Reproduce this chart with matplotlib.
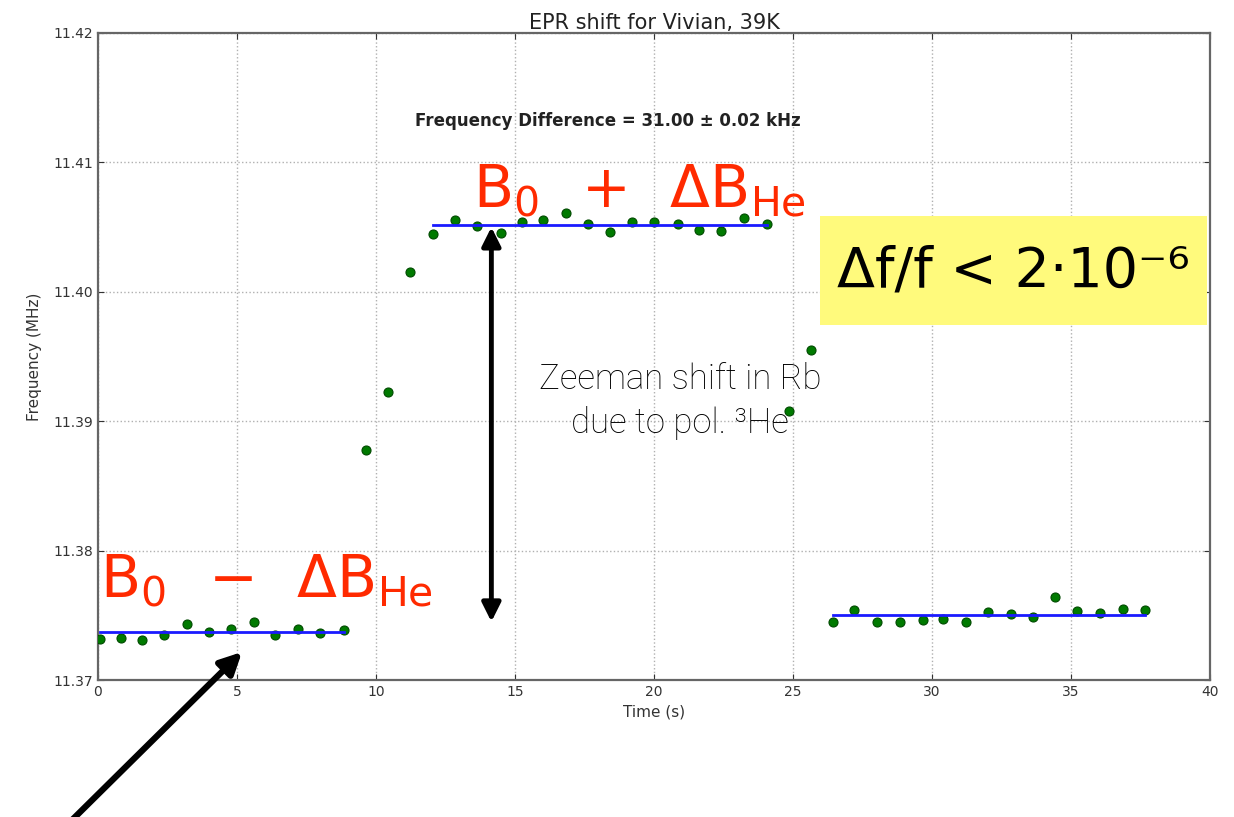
import numpy as np
import matplotlib
matplotlib.use("Agg")
import matplotlib.pyplot as plt
from matplotlib.patches import Rectangle

W, H = 1234, 817

# EPR frequency readings (MHz) vs time (s), split by 3He spin state
t_before = [0.07, 0.83, 1.58, 2.37, 3.19, 3.99, 4.79, 5.60, 6.37, 7.18, 8.00, 8.86]
f_before = [11.37315, 11.37327, 11.37309, 11.37348, 11.37430, 11.37373,
            11.37392, 11.37446, 11.37348, 11.37394, 11.37361, 11.37386]

t_rise = [9.63, 10.44, 11.22]
f_rise = [11.38777, 11.39228, 11.40155]

t_flip = [12.04, 12.84, 13.62, 14.49, 15.24, 16.02, 16.82, 17.62,
          18.42, 19.22, 20.00, 20.87, 21.63, 22.41, 23.25, 24.05]
f_flip = [11.40447, 11.40555, 11.40508, 11.40452, 11.40537, 11.40555,
          11.40611, 11.40524, 11.40460, 11.40537, 11.40542, 11.40524,
          11.40478, 11.40470, 11.40568, 11.40522]

t_fall = [24.87, 25.65]
f_fall = [11.39079, 11.39550]

t_after = [26.43, 27.21, 28.03, 28.85, 29.67, 30.41, 31.21, 32.03,
           32.83, 33.62, 34.42, 35.20, 36.04, 36.86, 37.66]
f_after = [11.37451, 11.37541, 11.37451, 11.37451, 11.37464, 11.37469,
           11.37451, 11.37528, 11.37508, 11.37489, 11.37639, 11.37533,
           11.37515, 11.37549, 11.37541]

x_ticks = [0, 5, 10, 15, 20, 25, 30, 35, 40]
y_ticks = [11.37, 11.38, 11.39, 11.40, 11.41, 11.42]


def fig_xy(x, y):
    # pixel position (from top-left) -> figure fraction
    return x / W, 1 - y / H


fig = plt.figure(figsize=(W / 100, H / 100), dpi=100)
ax = fig.add_axes([98 / W, 1 - 680 / H, (1210 - 98) / W, (680 - 33) / H])

dot = dict(ls="none", marker="o", ms=6.5, mfc="#007a00", mec="#004a00", mew=0.8, zorder=3)
for t, f in [(t_before, f_before), (t_rise, f_rise), (t_flip, f_flip),
             (t_fall, f_fall), (t_after, f_after)]:
    ax.plot(t, f, **dot)

# plateau averages
for t, f in [(t_before, f_before), (t_flip, f_flip), (t_after, f_after)]:
    m = np.mean(f)
    ax.plot([t[0], t[-1]], [m, m], color="#1a1aff", lw=2, zorder=4)

ax.set_xlim(0, 40)
ax.set_ylim(11.37, 11.42)
ax.set_xticks(x_ticks)
ax.set_yticks(y_ticks)
ax.set_yticklabels([f"{v:.2f}" for v in y_ticks])
ax.tick_params(direction="in", top=True, right=True, labelsize=10,
               colors="#333333", length=4)
ax.grid(True, ls=":", color="#b0b0b0", lw=1)
for s in ax.spines.values():
    s.set_color("#666666")
    s.set_linewidth(1.6)

ax.set_title("EPR shift for Vivian, 39K", fontsize=15, pad=3, color="#222222")
ax.set_xlabel("Time (s)", fontsize=11, color="#333333", labelpad=4)
ax.set_ylabel("Frequency (MHz)", fontsize=11, color="#333333", labelpad=8)

ax.text(18.35, 11.4132, "Frequency Difference = 31.00 \u00b1 0.02 kHz",
        fontsize=12, fontweight="bold", ha="center", va="center", color="#222222")

# annotations
red = "#ff2a00"
fig.text(*fig_xy(473, 207), r"$\mathregular{B_0\ \,+\ \,\Delta B_{He}}$",
         fontsize=42, color=red, ha="left", va="baseline")
fig.text(*fig_xy(100, 597), r"$\mathregular{B_0\ \,-\ \,\Delta B_{He}}$",
         fontsize=42, color=red, ha="left", va="baseline")

fig.patches.append(Rectangle(fig_xy(820, 325), 387 / W, 109 / H,
                             transform=fig.transFigure, fc="#fffa7c", ec="none"))
fig.text(*fig_xy(1013, 272), "\u0394f/f < 2\u00b710\u207b\u2076",
         fontsize=40, color="black", ha="center", va="center")

fig.text(*fig_xy(680, 401), "Zeeman shift in Rb\ndue to pol. \u00b3He",
         fontsize=25, color="#000000", ha="center", va="center",
         family="Roboto", fontweight="light", linespacing=1.38)

ax.annotate("", xy=(14.15, 11.4050), xytext=(14.15, 11.3745),
            arrowprops=dict(arrowstyle="<|-|>", color="black", lw=3.5,
                            mutation_scale=28, shrinkA=0, shrinkB=0))

ax.annotate("", xy=fig_xy(242, 652), xycoords="figure fraction",
            xytext=fig_xy(70, 822), textcoords="figure fraction",
            arrowprops=dict(arrowstyle="-|>", color="black", lw=4.5,
                            mutation_scale=32, shrinkA=0, shrinkB=0),
            annotation_clip=False)

fig.savefig("out.png", dpi=100)
